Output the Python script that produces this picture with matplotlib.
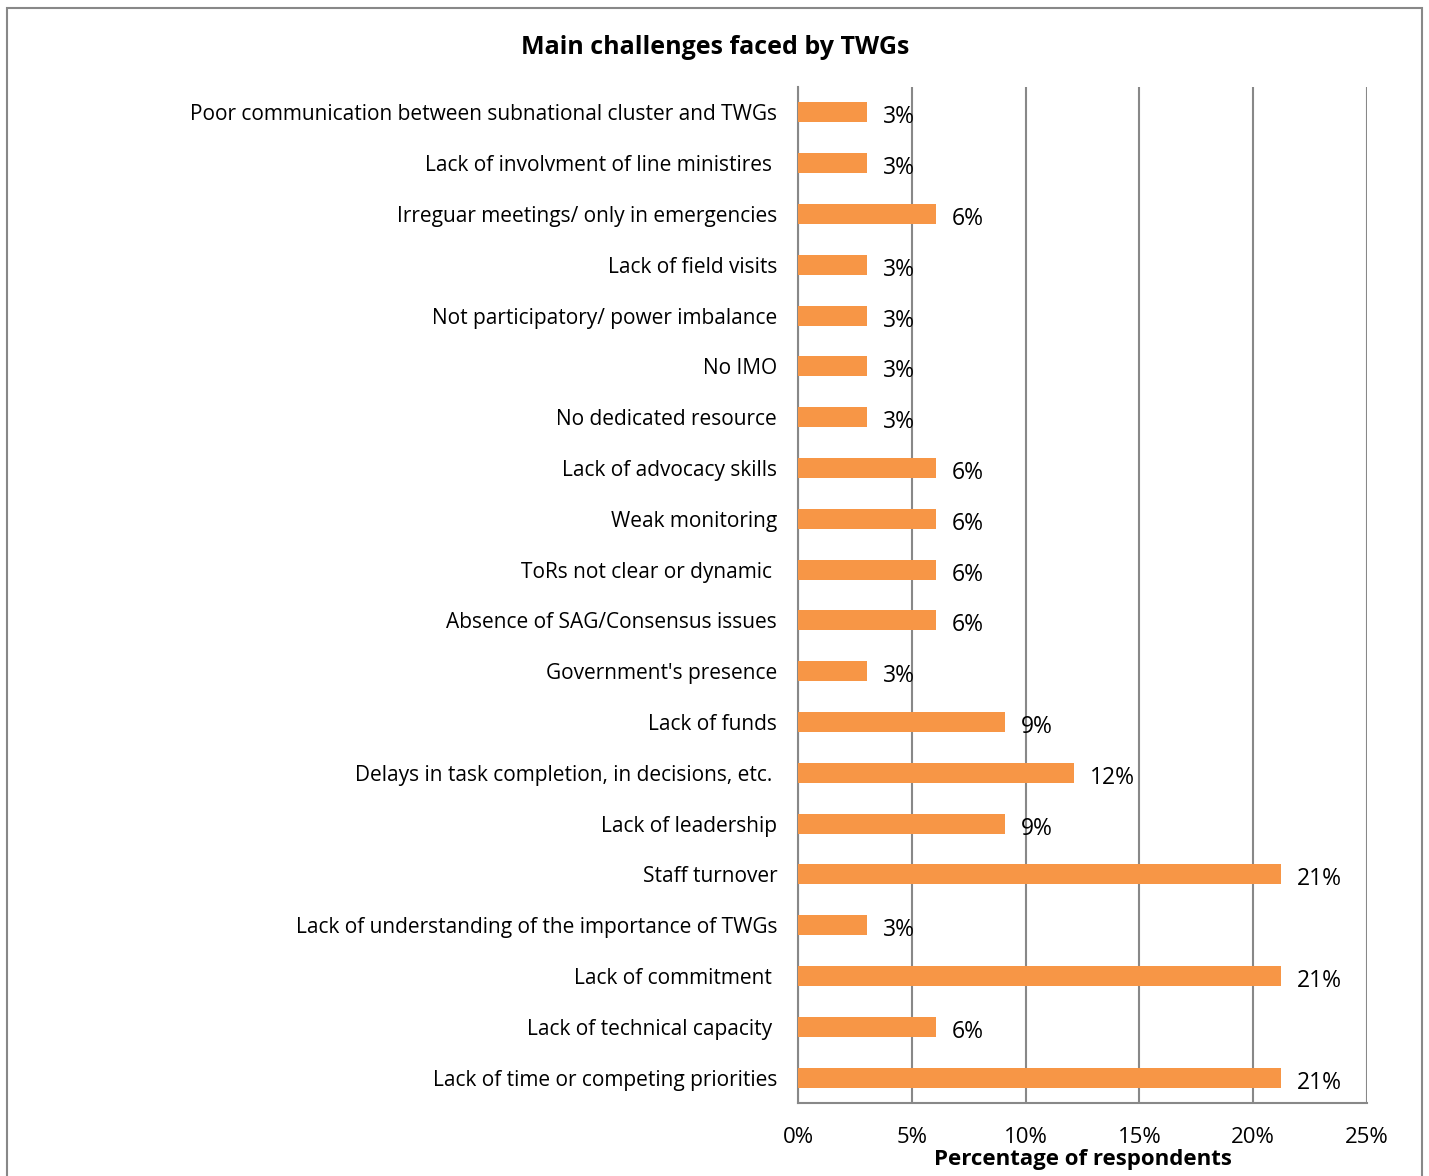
import matplotlib.pyplot as plt
from matplotlib.patches import Rectangle

plt.rcParams['font.family'] = ['Open Sans', 'DejaVu Sans']

# challenges listed top to bottom, share of respondents (%)
challenges = [
    "Poor communication between subnational cluster and TWGs",
    "Lack of involvment of line ministires ",
    "Irreguar meetings/ only in emergencies",
    "Lack of field visits",
    "Not participatory/ power imbalance",
    "No IMO",
    "No dedicated resource",
    "Lack of advocacy skills",
    "Weak monitoring",
    "ToRs not clear or dynamic ",
    "Absence of SAG/Consensus issues",
    "Government's presence",
    "Lack of funds",
    "Delays in task completion, in decisions, etc. ",
    "Lack of leadership",
    "Staff turnover",
    "Lack of understanding of the importance of TWGs",
    "Lack of commitment ",
    "Lack of technical capacity ",
    "Lack of time or competing priorities",
]
percent = [3.03, 3.03, 6.06, 3.03, 3.03, 3.03, 3.03, 6.06, 6.06, 6.06,
           6.06, 3.03, 9.09, 12.12, 9.09, 21.21, 3.03, 21.21, 6.06, 21.21]
xticks = [0, 5, 10, 15, 20, 25]

fig = plt.figure(figsize=(14.29, 11.76), dpi=100)
ax = fig.add_axes([798 / 1429, 1 - 1103 / 1176, (1367 - 798) / 1429, (1103 - 87) / 1176])

ypos = list(range(len(challenges)))
ax.barh(ypos, percent, height=0.39, color='#F79646', zorder=3)
for y, v in zip(ypos, percent):
    ax.text(v + 0.7, y + 0.04, f"{v:.0f}%", va='center_baseline', ha='left',
            fontsize=16.5, zorder=4)

ax.set_ylim(len(challenges) - 0.5, -0.5)
ax.set_xlim(0, 25)
ax.set_yticks(ypos)
ax.set_yticklabels(challenges, fontsize=15)
ax.set_xticks(xticks)
ax.set_xticklabels([f"{t}%" for t in xticks], fontsize=16)
ax.tick_params(axis='both', length=0)
ax.tick_params(axis='y', pad=15)
ax.tick_params(axis='x', pad=17)
for lbl in ax.get_yticklabels():
    lbl.set_verticalalignment('center_baseline')
ax.grid(axis='x', color='#888888', linewidth=1.5, zorder=0)

for side in ['top', 'right']:
    ax.spines[side].set_visible(False)
for side in ['left', 'bottom']:
    ax.spines[side].set_color('#888888')
    ax.spines[side].set_linewidth(1.5)

ax.set_xlabel("Percentage of respondents", fontsize=16, fontweight='bold')
ax.xaxis.set_label_coords(0.5, -0.045)
fig.text(715 / 1429, 1 - 47 / 1176, "Main challenges faced by TWGs",
         ha='center', va='center', fontsize=18, fontweight='bold')

# outer chart frame, running past the bottom edge
fig.patches.append(Rectangle((7 / 1429, -0.05), (1422 - 7) / 1429, 1.05 - 8 / 1176,
                             transform=fig.transFigure, fill=False,
                             edgecolor='#888888', linewidth=1.5))

fig.savefig('out.png', dpi=100)
